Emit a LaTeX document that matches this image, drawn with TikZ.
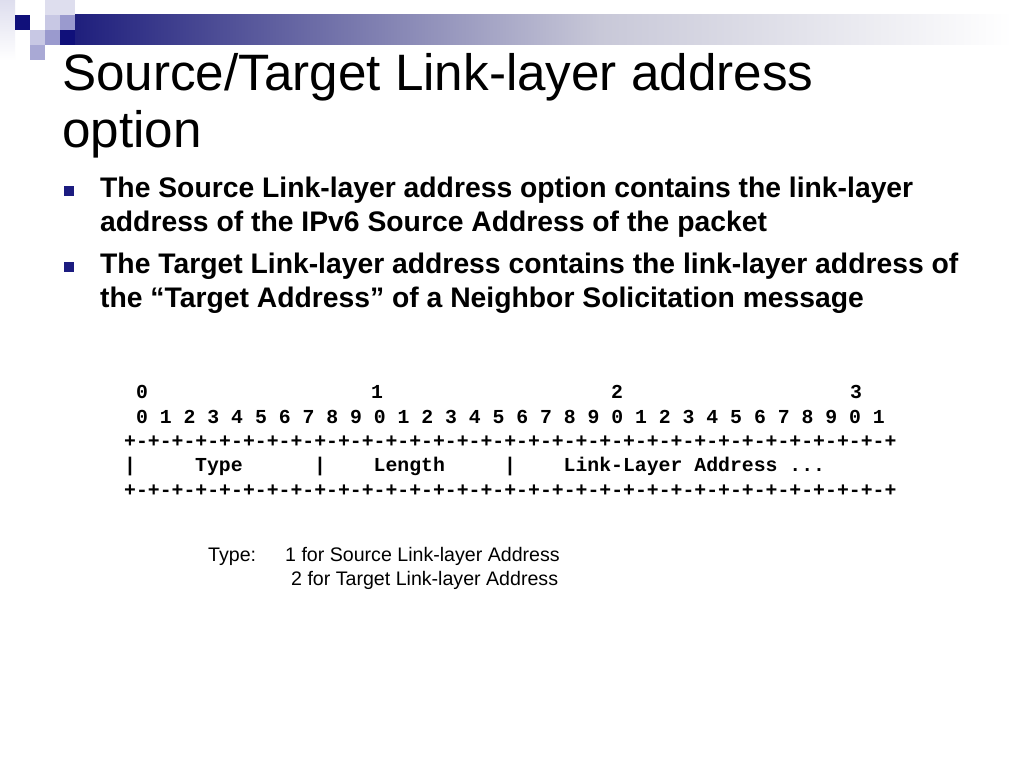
\documentclass[tikz,border=0pt]{standalone}
\usepackage{fontspec}
\setmainfont{Liberation Sans}
\setmonofont{Liberation Mono}
\usepackage{xcolor}
\usepackage{tikz}

\definecolor{slidenavy}{RGB}{28,28,128}
\definecolor{barnavy}{RGB}{26,26,122}
\definecolor{barmid}{RGB}{200,200,216}
\definecolor{sqdark}{RGB}{16,16,122}
\definecolor{sqmid}{RGB}{154,154,206}
\definecolor{sqlight}{RGB}{200,200,228}
\definecolor{sqfaint}{RGB}{222,222,238}

\tikzset{
  titletext/.style={anchor=base west,inner sep=0pt,font=\fontsize{51.2}{57}\selectfont},
  bullettext/.style={anchor=base west,inner sep=0pt,font=\fontsize{28.3}{34}\selectfont\bfseries},
  bulletbox/.style={fill=slidenavy,minimum size=10.5pt,inner sep=0pt},
  asciirow/.style={anchor=base west,inner sep=0pt,font=\fontsize{19.8}{24}\selectfont\ttfamily\bfseries},
  notetext/.style={anchor=base west,inner sep=0pt,font=\fontsize{19.6}{24}\selectfont},
}

\begin{document}
\begin{tikzpicture}[x=1pt,y=-1pt]
    \useasboundingbox (0,0) rectangle (1024,768);
    \fill[white] (0,0) rectangle (1024,768);
    % top bar and corner
    \shade[top color=sqfaint,bottom color=white] (0,0) rectangle (15,60);
    \shade[left color=barnavy,right color=barmid] (60,15) rectangle (600,45);
    \shade[left color=barmid,right color=white] (600,15) rectangle (1012,45);
    \fill[sqfaint] (45,0) rectangle (75,15);
    \fill[sqdark] (15,15) rectangle (30,30);
    \fill[sqlight] (45,15) rectangle (60,30);
    \fill[sqmid] (60,15) rectangle (75,30);
    \fill[sqlight] (30,30) rectangle (45,45);
    \fill[sqmid] (45,30) rectangle (60,45);
    \fill[sqdark] (60,30) rectangle (75,45);
    \fill[sqmid!85] (30,45) rectangle (45,60);
    %
    \node[titletext] (title1) at (62,90) {Source/Target Link-layer address};
    \node[titletext] (title2) at (62,147) {option};
    %
    \node[bulletbox] (mark1) at (69,191) {};
    \node[bullettext] (b1a) at (100,197) {The Source Link-layer address option contains the link-layer};
    \node[bullettext] (b1b) at (100,231) {address of the IPv6 Source Address of the packet};
    \node[bulletbox] (mark2) at (69,267) {};
    \node[bullettext] (b2a) at (100,273) {The Target Link-layer address contains the link-layer address of};
    \node[bullettext] (b2b) at (100,307) {the “Target Address” of a Neighbor Solicitation message};
    %
    \node[asciirow] (dec0) at (136,398) {0};
    \node[asciirow] (dec1) at (371,398) {1};
    \node[asciirow] (dec2) at (611,398) {2};
    \node[asciirow] (dec3) at (850,398) {3};
    \node[asciirow] (bits) at (136,423) {0 1 2 3 4 5 6 7 8 9 0 1 2 3 4 5 6 7 8 9 0 1 2 3 4 5 6 7 8 9 0 1};
    \node[asciirow] (rule1) at (124,447) {+-+-+-+-+-+-+-+-+-+-+-+-+-+-+-+-+-+-+-+-+-+-+-+-+-+-+-+-+-+-+-+-+};
    \node[asciirow] (bar0) at (124,471) {|};
    \node[asciirow] (ftype) at (195,471) {Type};
    \node[asciirow] (bar1) at (314,471) {|};
    \node[asciirow] (flen) at (373.5,471) {Length};
    \node[asciirow] (bar2) at (504,471) {|};
    \node[asciirow] (faddr) at (563.5,471) {Link-Layer Address ...};
    \node[asciirow] (rule2) at (124,496) {+-+-+-+-+-+-+-+-+-+-+-+-+-+-+-+-+-+-+-+-+-+-+-+-+-+-+-+-+-+-+-+-+};
    %
    \node[notetext] (typekey) at (208,561) {Type:};
    \node[notetext] (type1) at (285,561) {1 for Source Link-layer Address};
    \node[notetext] (type2) at (291,585) {2 for Target Link-layer Address};
\end{tikzpicture}
\end{document}
